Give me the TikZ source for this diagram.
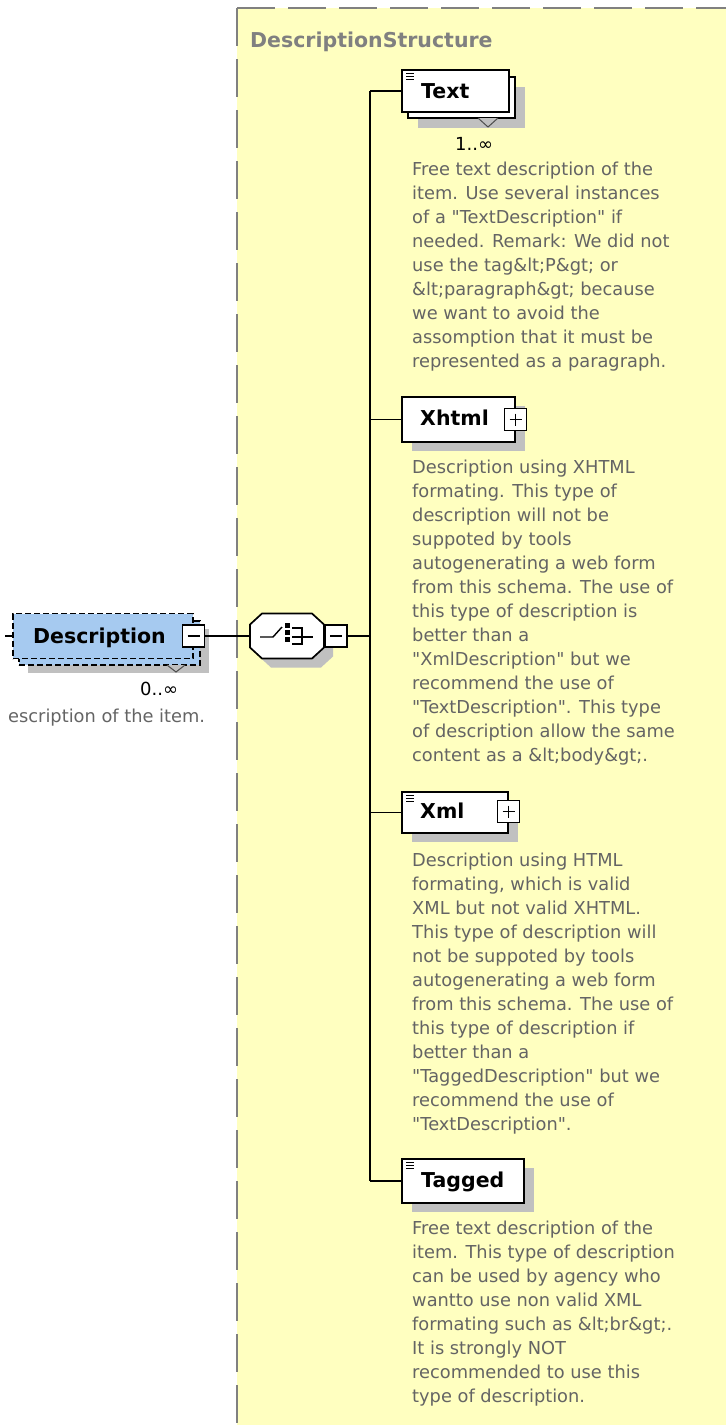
\documentclass[tikz,border=0pt]{standalone}
\usepackage{fontspec}
\setmainfont{DejaVu Sans}[Ligatures=TeXOff]
\usetikzlibrary{calc}
\definecolor{bgyellow}{RGB}{255,255,192}
\definecolor{bordergrey}{RGB}{128,128,128}
\definecolor{shadowgrey}{RGB}{192,192,192}
\definecolor{descblue}{RGB}{166,202,240}
\definecolor{docgrey}{RGB}{100,100,100}
\definecolor{titlegrey}{RGB}{128,128,128}
\newcommand{\doclines}[1]{\begin{tabular}[t]{@{}l@{}}#1\end{tabular}}
\begin{document}
\begin{tikzpicture}[x=1pt,y=-1pt,
  elbox/.style={rectangle,draw=black,line width=1.7pt,fill=white,inner sep=0pt},
  shadowbox/.style={rectangle,fill=shadowgrey,draw=none,inner sep=0pt},
  descbox/.style={rectangle,draw=black,line width=1.5pt,dash pattern=on 6pt off 3pt,fill=descblue,inner sep=0pt},
  pmbox/.style={rectangle,draw=black,line width=1.5pt,fill=white,inner sep=0pt,minimum width=22pt,minimum height=22pt},
  lbl/.style={font=\fontsize{20.5}{24}\selectfont\bfseries,anchor=base west,inner sep=0pt},
  mult/.style={font=\fontsize{18}{24}\selectfont,anchor=base west,inner sep=0pt},
  doc/.style={font=\fontsize{17.8}{24}\selectfont,text=docgrey,anchor=base west,inner sep=0pt},
  conn/.style={line width=1.8pt,draw=black},
  sign/.style={line width=1.5pt,draw=black},
  icon/.style={line width=1.1pt,draw=black},
  vmark/.style={line width=1pt,draw=black!70,fill=shadowgrey}]
\useasboundingbox (0,0) rectangle (726,1425);

% background group
\fill[bgyellow] (237,8) rectangle (726,1425);
\draw[bordergrey,line width=2pt,dash pattern=on 38pt off 13pt] (237,8) -- (726,8);
\draw[bordergrey,line width=2pt,dash pattern=on 38pt off 13pt] (237,8) -- (237,1425);
\node[font=\fontsize{20.5}{24}\selectfont\bfseries,text=titlegrey,anchor=base west,inner sep=0pt] (title) at (250,47) {DescriptionStructure};

% ---------------- Description element ----------------
\node[shadowbox,minimum width=181pt,minimum height=44pt] (descsh) at (118.5,651) {};
\node[descbox,minimum width=181pt,minimum height=44pt] (descback) at (109.5,643) {};
\node[descbox,minimum width=180pt,minimum height=45pt] (desc) at (103,636) {};
\node[lbl] (desclbl) at (33,643) {Description};
\node[pmbox] (descminus) at (193.5,636) {};
\draw[sign] ($(descminus.center)+(-6,0)$) -- ($(descminus.center)+(6,0)$);
\draw[vmark] (167,665) -- (176,672) -- (185,665);
\node[mult] (descmult) at (140,695) {0..∞};
\node[doc] (descdoc) at (8,722) {escription of the item.};
\coordinate (stub) at (5,636);
\draw[conn] (stub) -- (desc.west);

% ---------------- sequence compositor ----------------
\node[inner sep=0pt,minimum width=74pt,minimum height=45pt] (seq) at (287,636) {};
\begin{scope}[shift={(seq.center)}]
  \fill[shadowgrey] (-28,-2.5) -- (-16,-13.5) -- (34,-13.5) -- (46,-2.5) -- (46,20.5) -- (34,31.5) -- (-16,31.5) -- (-28,20.5) -- cycle;
  \draw[line width=1.7pt,fill=white] (-37,-11.5) -- (-25,-22.5) -- (25,-22.5) -- (37,-11.5) -- (37,11.5) -- (25,22.5) -- (-25,22.5) -- (-37,11.5) -- cycle;
  \draw[icon,line width=1.4pt] (-27,1) -- (-14,1) -- (-5,-9);
  \fill[black] (-2,-13) rectangle (3,-8);
  \fill[black] (-2,-6) rectangle (3,-1);
  \fill[black] (-2,1) rectangle (3,6);
  \draw[icon,line width=1.4pt] (5,-8) -- (15,-8) -- (15,8) -- (5,8);
  \draw[icon,line width=1.4pt] (5,1) -- (26,1);
\end{scope}
\node[pmbox] (seqminus) at (336,636) {};
\draw[sign] ($(seqminus.center)+(-6,0)$) -- ($(seqminus.center)+(6,0)$);

% ---------------- Text ----------------
\node[shadowbox,minimum width=107pt,minimum height=41pt] (txtsh) at (471.5,107.5) {};
\node[elbox,minimum width=107pt,minimum height=41pt] (txtback) at (461.5,97.5) {};
\node[elbox,minimum width=107pt,minimum height=42pt] (txt) at (455.5,91) {};
\draw[icon] ($(txt.north west)+(5,4)$) -- ++(8,0);
\draw[icon] ($(txt.north west)+(5,7)$) -- ++(8,0);
\draw[icon] ($(txt.north west)+(5,10)$) -- ++(8,0);
\node[lbl] (txtlbl) at (421,98) {Text};
\draw[vmark] (478,118) -- (488,127) -- (498,118);
\node[mult] (txtmult) at (455,150) {1..∞};
\node[doc] (txtdoc) at (412,175) {\doclines{Free text description of the\\
item. Use several instances\\
of a "TextDescription" if\\
needed. Remark: We did not\\
use the tag\&lt;P\&gt; or\\
\&lt;paragraph\&gt; because\\
we want to avoid the\\
assomption that it must be\\
represented as a paragraph.}};

% ---------------- Xhtml ----------------
\node[shadowbox,minimum width=113pt,minimum height=45pt] (xhtsh) at (468.5,428.5) {};
\node[elbox,minimum width=113pt,minimum height=45pt] (xht) at (458.5,419.5) {};
\node[lbl] (xhtlbl) at (420,425) {Xhtml};
\node[pmbox] (xhtplus) at (515.5,419.5) {};
\draw[sign] ($(xhtplus.center)+(-6,0)$) -- ($(xhtplus.center)+(6,0)$);
\draw[sign] ($(xhtplus.center)+(0,-6)$) -- ($(xhtplus.center)+(0,6)$);
\node[doc] (xhtdoc) at (412,473) {\doclines{Description using XHTML\\
formating. This type of\\
description will not be\\
suppoted by tools\\
autogenerating a web form\\
from this schema. The use of\\
this type of description is\\
better than a\\
"XmlDescription" but we\\
recommend the use of\\
"TextDescription". This type\\
of description allow the same\\
content as a \&lt;body\&gt;.}};

% ---------------- Xml ----------------
\node[shadowbox,minimum width=106pt,minimum height=41pt] (xmlsh) at (465,821.5) {};
\node[elbox,minimum width=106pt,minimum height=41pt] (xml) at (455,812.5) {};
\draw[icon] ($(xml.north west)+(5,4)$) -- ++(8,0);
\draw[icon] ($(xml.north west)+(5,7)$) -- ++(8,0);
\draw[icon] ($(xml.north west)+(5,10)$) -- ++(8,0);
\node[lbl] (xmllbl) at (420,818) {Xml};
\node[pmbox] (xmlplus) at (508.5,811.5) {};
\draw[sign] ($(xmlplus.center)+(-6,0)$) -- ($(xmlplus.center)+(6,0)$);
\draw[sign] ($(xmlplus.center)+(0,-6)$) -- ($(xmlplus.center)+(0,6)$);
\node[doc] (xmldoc) at (412,866) {\doclines{Description using HTML\\
formating, which is valid\\
XML but not valid XHTML.\\
This type of description will\\
not be suppoted by tools\\
autogenerating a web form\\
from this schema. The use of\\
this type of description if\\
better than a\\
"TaggedDescription" but we\\
recommend the use of\\
"TextDescription".}};

% ---------------- Tagged ----------------
\node[shadowbox,minimum width=122pt,minimum height=44pt] (tagsh) at (473,1190) {};
\node[elbox,minimum width=122pt,minimum height=44pt] (tag) at (463,1181) {};
\draw[icon] ($(tag.north west)+(5,4)$) -- ++(8,0);
\draw[icon] ($(tag.north west)+(5,7)$) -- ++(8,0);
\draw[icon] ($(tag.north west)+(5,10)$) -- ++(8,0);
\node[lbl] (taglbl) at (421,1187) {Tagged};
\node[doc] (tagdoc) at (412,1234) {\doclines{Free text description of the\\
item. This type of description\\
can be used by agency who\\
wantto use non valid XML\\
formating such as \&lt;br\&gt;.\\
It is strongly NOT\\
recommended to use this\\
type of description.}};

% ---------------- connectors ----------------
\coordinate (bus) at (370,636);
\draw[conn] (descminus.east) -- (seq.west);
\draw[conn] (seqminus.east) -- (bus);
\draw[conn] (bus |- txt.west) -- (bus |- tag.west);
\draw[conn] (bus |- txt.west) -- (txt.west);
\draw[conn] (bus |- xht.west) -- (xht.west);
\draw[conn] (bus |- xml.west) -- (xml.west);
\draw[conn] (bus |- tag.west) -- (tag.west);
\end{tikzpicture}
\end{document}
